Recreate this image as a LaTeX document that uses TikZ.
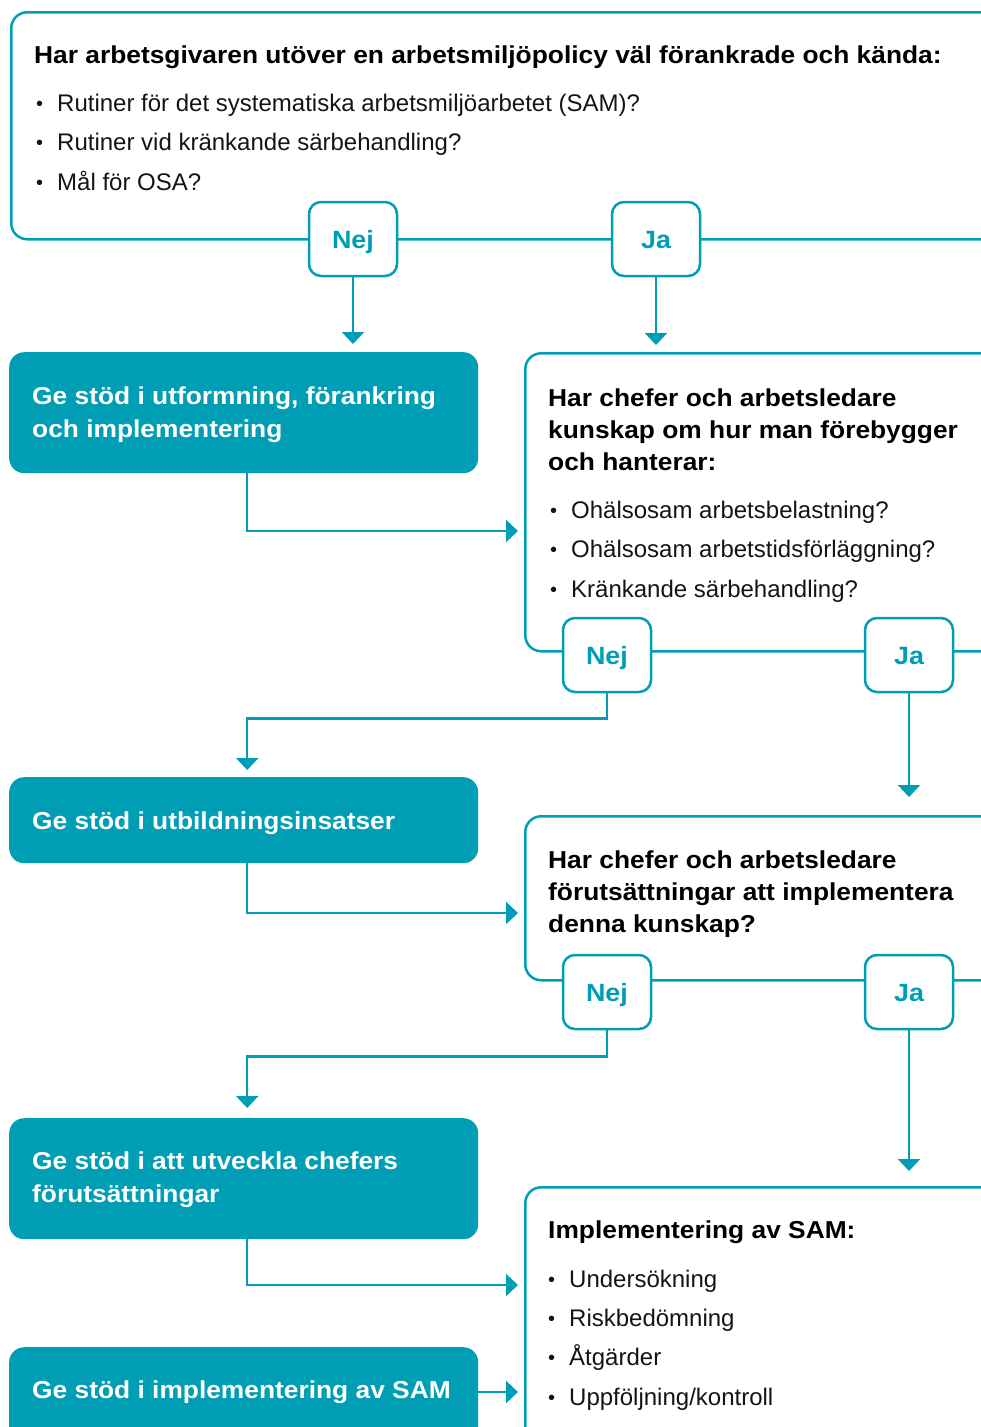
\documentclass[tikz,border=0pt]{standalone}
\usepackage{fontspec}
\setmainfont{Liberation Sans}[BoldFeatures={FakeStretch=1.075}]
\usetikzlibrary{arrows.meta,positioning}
\definecolor{avteal}{RGB}{0,158,180}
\definecolor{brodtext}{RGB}{20,20,20}
\newcommand{\pkt}{\makebox[21pt][l]{\raisebox{1pt}{\fontsize{20}{20}\selectfont\textbullet}}}
\begin{document}
\begin{tikzpicture}[x=1pt,y=-1pt,
	frame/.style={draw=avteal, line width=2.5pt, rounded corners=16pt, anchor=north west, inner sep=0pt},
	stod/.style={fill=avteal, rounded corners=15pt, anchor=north west, inner sep=0pt, minimum width=469pt},
	svar/.style={draw=avteal, fill=white, line width=2.5pt, rounded corners=12pt, minimum width=88pt, minimum height=74pt,
		text height=20pt, text depth=2pt, text=avteal, font=\fontsize{25}{25}\selectfont\bfseries},
	rubrik/.style={anchor=base west, align=left, inner sep=0pt, text=black, font=\fontsize{24.5}{32}\selectfont\bfseries},
	punkt/.style={anchor=base west, align=left, inner sep=0pt, text=brodtext, font=\fontsize{24}{39.3}\selectfont},
	vit/.style={anchor=base west, align=left, inner sep=0pt, text=white, font=\fontsize{24.5}{33}\selectfont\bfseries},
	pil/.style={draw=avteal, line width=2.5pt, -{Triangle[width=22pt,length=12pt]}},
	]
	\useasboundingbox (0,0) rectangle (980,1427);

	% fragerutor
	\node[frame, minimum width=1000pt, minimum height=227pt] (q1) at (10,11) {};
	\node[frame, minimum width=480pt, minimum height=298pt] (q2) at (524,352) {};
	\node[frame, minimum width=480pt, minimum height=164pt] (q3) at (524,815) {};
	\node[frame, minimum width=480pt, minimum height=300pt] (q4) at (524,1186) {};

	% base = sista radens baslinje
	\node[rubrik] (q1h) at (34,63) {Har arbetsgivaren utöver en arbetsmiljöpolicy väl förankrade och kända:};
	\node[punkt] (q1p) at (36,190) {\pkt Rutiner för det systematiska arbetsmiljöarbetet (SAM)?\\
		\pkt Rutiner vid kränkande särbehandling?\\
		\pkt Mål för OSA?};
	\node[rubrik] (q2h) at (548,470) {Har chefer och arbetsledare\\kunskap om hur man förebygger\\och hanterar:};
	\node[punkt] (q2p) at (550,597) {\pkt Ohälsosam arbetsbelastning?\\
		\pkt Ohälsosam arbetstidsförläggning?\\
		\pkt Kränkande särbehandling?};
	\node[rubrik] (q3h) at (548,932) {Har chefer och arbetsledare\\förutsättningar att implementera\\denna kunskap?};
	\node[rubrik] (q4h) at (548,1238) {Implementering av SAM:};
	\node[punkt] (q4p) at (548,1405) {\pkt Undersökning\\
		\pkt Riskbedömning\\
		\pkt Åtgärder\\
		\pkt Uppföljning/kontroll};

	% stodrutor
	\node[stod, minimum height=121pt] (ge1) at (9,352) {};
	\node[stod, minimum height=86pt] (ge2) at (9,777) {};
	\node[stod, minimum height=121pt] (ge3) at (9,1118) {};
	\node[stod, minimum height=120pt] (ge4) at (9,1347) {};
	\node[vit] at (32,437) {Ge stöd i utformning, förankring\\och implementering};
	\node[vit] at (32,829) {Ge stöd i utbildningsinsatser};
	\node[vit] at (32,1202) {Ge stöd i att utveckla chefers\\förutsättningar};
	\node[vit] at (32,1398) {Ge stöd i implementering av SAM};

	% svar
	\node[svar] (nej1) at (353,239) {Nej};
	\node[svar] (ja1) at (656,239) {Ja};
	\node[svar] (nej2) at (607,655) {Nej};
	\node[svar] (ja2) at (909,655) {Ja};
	\node[svar] (nej3) at (607,992) {Nej};
	\node[svar] (ja3) at (909,992) {Ja};

	\coordinate (in2) at (523,531);
	\coordinate (in3) at (523,913);
	\coordinate (in4) at (523,1285);
	\coordinate (in5) at (523,1392);

	\draw[pil, shorten >=8pt] (nej1) -- (nej1 |- ge1.north);
	\draw[pil, shorten >=7pt] (ja1) -- (ja1 |- q2.north);
	\draw[pil, shorten >=5pt] ([xshift=3.5pt]ge1.south) |- (in2);
	\draw[pil, shorten >=7pt] (nej2.south) -- ++(0,25) -| ([xshift=3.5pt]ge2.north);
	\draw[pil, shorten >=18pt] (ja2) -- (ja2 |- q3.north);
	\draw[pil, shorten >=5pt] ([xshift=3.5pt]ge2.south) |- (in3);
	\draw[pil, shorten >=10pt] (nej3.south) -- ++(0,26) -| ([xshift=3.5pt]ge3.north);
	\draw[pil, shorten >=15pt] (ja3) -- (ja3 |- q4.north);
	\draw[pil, shorten >=5pt] ([xshift=3.5pt]ge3.south) |- (in4);
	\draw[pil, shorten >=5pt] (ge4.east |- in5) -- (in5);
\end{tikzpicture}
\end{document}
